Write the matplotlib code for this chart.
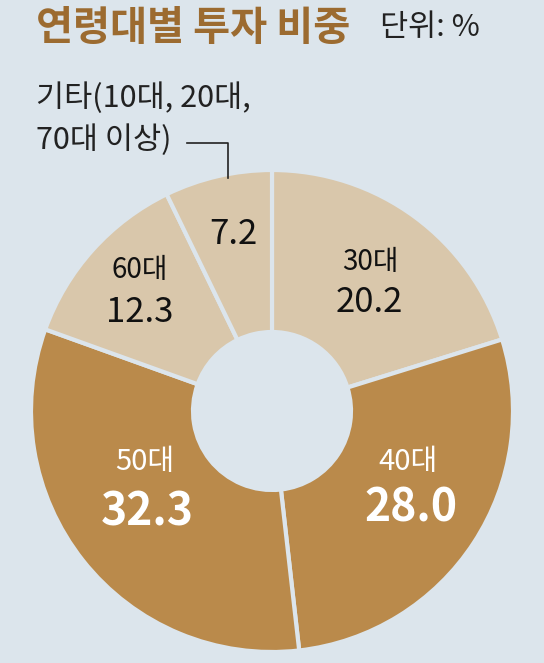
import matplotlib
matplotlib.use("Agg")
import matplotlib.pyplot as plt

plt.rcParams['font.family'] = ['Noto Sans CJK KR', 'DejaVu Sans']

categories = ["30대", "40대", "50대", "60대", "기타"]
values = [20.2, 28.0, 32.3, 12.3, 7.2]
value_labels = ["20.2", "28.0", "32.3", "12.3", "7.2"]
title = "연령대별 투자 비중"
unit = "단위: %"
other_note = ["기타(10대, 20대,", "70대 이상)"]

BG = "#dce5ec"
TAN = "#d9c7ab"
BROWN = "#ba8a4b"
TITLE_C = "#9c6b30"
colors = [TAN, BROWN, BROWN, TAN, TAN]

W, H = 544, 663
fig = plt.figure(figsize=(W / 100, H / 100), dpi=100, facecolor=BG)
ax = fig.add_axes([0, 0, 1, 1])
ax.set_facecolor(BG)

cx, cy, R, r_in = 272, 411, 241, 79

def Y(y):
    return H - y

ax.pie(values, colors=colors, startangle=90, counterclock=False,
       radius=R, center=(cx, Y(cy)),
       wedgeprops=dict(width=R - r_in, edgecolor=BG, linewidth=3))
ax.set_xlim(0, W)
ax.set_ylim(0, H)
ax.set_aspect('equal')
ax.axis('off')

# Title
ax.text(36, Y(28), title, fontsize=29, fontweight='bold', color=TITLE_C,
        ha='left', va='center')
ax.text(380, Y(28), unit, fontsize=22, color='#222222', ha='left', va='center')

# Other note and leader line
ax.text(36, Y(98), other_note[0], fontsize=22, color='#222222', ha='left', va='center')
ax.text(36, Y(140), other_note[1], fontsize=22, color='#222222', ha='left', va='center')
ax.plot([187, 228, 228], [Y(143), Y(143), Y(178)], color='#222222', lw=1.2)

# Slice labels: (category pos, value pos, color, cat size, value size, value weight)
specs = {
    "30대": ((370, 262), (369, 303), '#111111', 20, 25, 'medium'),
    "40대": ((408, 462), (411, 508), 'white', 21, 32, 'bold'),
    "50대": ((145, 462), (147, 513), 'white', 21, 32, 'bold'),
    "60대": ((140, 270), (140, 313), '#111111', 20, 25, 'medium'),
}
for cat, val in zip(categories, value_labels):
    if cat in specs:
        (px, py), (vx, vy), c, cs, vs, vw = specs[cat]
        ax.text(px, Y(py), cat, fontsize=cs, color=c, ha='center', va='center')
        ax.text(vx, Y(vy), val, fontsize=vs, color=c, ha='center', va='center',
                fontweight=vw)
    else:
        ax.text(233, Y(235), val, fontsize=25, color='#111111', ha='center',
                va='center', fontweight='medium')

fig.savefig("out.png", dpi=100, facecolor=BG)
